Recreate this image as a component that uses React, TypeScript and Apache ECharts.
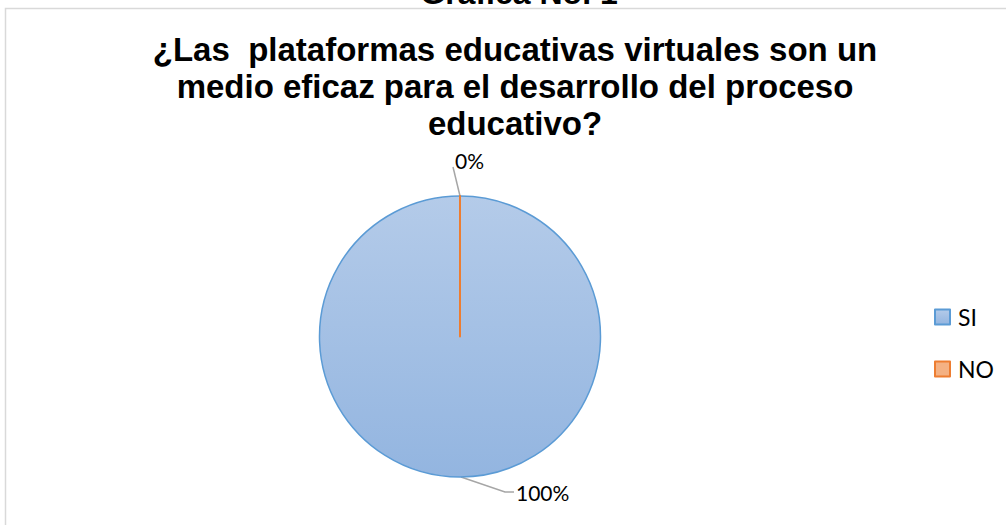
import React, { useEffect, useRef } from "react";
import * as echarts from "echarts";

const categories = ["SI", "NO"];
const values = [100, 0];
const supTitle = "Gráfica No. 1";
const chartTitle =
  "¿Las  plataformas educativas virtuales son un\nmedio eficaz para el desarrollo del proceso\neducativo?";

const CX = 460;
const CY = 336.5;
const R = 140.5;

export default function App() {
  const ref = useRef<HTMLDivElement>(null);
  useEffect(() => {
    document.body.style.margin = "0";
    const chart = echarts.init(ref.current!, null, { renderer: "svg" });
    const sliceStyles = [
      {
        color: new echarts.graphic.LinearGradient(0, 0, 0, 1, [
          { offset: 0, color: "#b4cbe9" },
          { offset: 1, color: "#93b5e0" },
        ]),
        borderColor: "#5b9bd5",
        borderWidth: 1.5,
      },
      {
        color: "#f4b183",
        borderColor: "#ed7d31",
        borderWidth: 2,
      },
    ];
    chart.setOption({
      animation: false,
      backgroundColor: "#ffffff",
      title: [
        {
          text: supTitle,
          left: 514,
          textAlign: "center",
          top: -28,
          textStyle: {
            fontFamily: "Liberation Sans",
            fontWeight: "bold",
            fontSize: 32,
            color: "#000",
          },
        },
        {
          text: chartTitle,
          left: 510,
          textAlign: "center",
          top: 26,
          textStyle: {
            fontFamily: "Liberation Sans",
            fontWeight: "bold",
            fontSize: 33,
            lineHeight: 37,
            color: "#000",
          },
        },
      ],
      graphic: [
        {
          type: "rect",
          shape: { x: 5.5, y: 8.5, width: 1200, height: 700 },
          style: { fill: "none", stroke: "#d9d9d9", lineWidth: 1.5 },
          silent: true,
        },
      ],
      legend: {
        orient: "vertical",
        left: 929,
        top: 299,
        icon: "rect",
        itemWidth: 15,
        itemHeight: 15,
        itemGap: 26,
        data: categories,
        textStyle: {
          fontFamily: "Lato",
          fontSize: 23,
          lineHeight: 26,
          color: "#000",
          padding: [0, 0, 0, 3],
        },
      },
      series: [
        {
          type: "pie",
          center: [CX, CY],
          radius: [0, R],
          startAngle: 90,
          clockwise: true,
          avoidLabelOverlap: false,
          data: categories.map((name, i) => ({
            name,
            value: values[i],
            itemStyle: sliceStyles[i],
          })),
          label: {
            show: true,
            position: "outside",
            formatter: "{d}%",
            fontFamily: "Lato",
            fontSize: 21,
            color: "#000",
          },
          labelLine: {
            show: true,
            lineStyle: { color: "#a6a6a6", width: 1.5 },
          },
          labelLayout: (params: any) => {
            if (params.dataIndex === 0) {
              return {
                x: CX + 56,
                y: CY + R + 15,
                align: "left",
                verticalAlign: "middle",
                labelLinePoints: [
                  [CX + 1, CY + R],
                  [CX + 45, CY + R + 15],
                  [CX + 54, CY + R + 15],
                ],
              };
            }
            return {
              x: CX - 5,
              y: CY - R - 36,
              align: "left",
              verticalAlign: "middle",
              labelLinePoints: [
                [CX, CY - R],
                [CX - 7, CY - R - 29],
              ],
            };
          },
        },
      ],
    });
    return () => chart.dispose();
  }, []);
  return <div ref={ref} style={{ width: 1006, height: 525 }} />;
}
